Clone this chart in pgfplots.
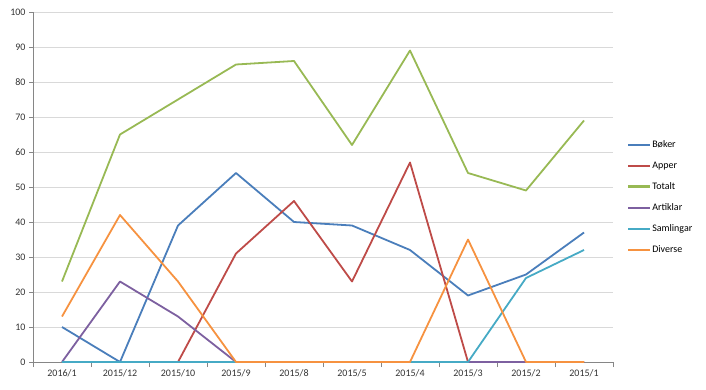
\documentclass[border=0pt]{standalone}
\usepackage{pgfplots}
\pgfplotsset{compat=1.18}
\usepackage{fontspec}
\setmainfont{Carlito}
\definecolor{cB}{HTML}{4A7EBB}
\definecolor{cR}{HTML}{BE4B48}
\definecolor{cG}{HTML}{98B954}
\definecolor{cP}{HTML}{7D60A0}
\definecolor{cT}{HTML}{46AAC5}
\definecolor{cO}{HTML}{F69240}
\definecolor{gridc}{HTML}{D9D9D9}
\definecolor{axc}{HTML}{868686}
\begin{document}
\begin{tikzpicture}[x=1pt,y=1pt]
\path[use as bounding box] (0,0) rectangle (706,389);
\begin{axis}[
  at={(33pt,27pt)}, anchor=south west,
  scale only axis, width=580pt, height=350pt,
  xmin=-0.5, xmax=9.5, ymin=0, ymax=100,
  axis lines=left, axis line style={draw=axc, line width=0.8pt, -},
  xtick={0,...,9},
  xticklabels={2016/1,2015/12,2015/10,2015/9,2015/8,2015/5,2015/4,2015/3,2015/2,2015/1},
  minor xtick={-0.5,0.5,...,9.5},
  major x tick style={draw=none},
  minor x tick style={draw=axc, line width=0.8pt},
  minor tick length=5pt,
  ytick={0,10,...,100},
  ymajorgrids, grid style={draw=gridc, line width=0.8pt},
  major y tick style={draw=axc, line width=0.8pt},
  major tick length=4pt,
  tick align=outside,
  tick label style={font=\fontsize{10}{11}\selectfont, text=black!80},
  /pgf/number format/assume math mode=true,
  legend style={at={(1.026,0.638)}, anchor=north west, draw=none, fill=none,
    font=\fontsize{10}{11}\selectfont, row sep=8.6pt, inner sep=0pt},
  legend cell align=left,
  legend image code/.code={\fill[#1, draw=none] (0pt,-1.2pt) rectangle (22pt,1.2pt);},
  every axis plot/.append style={line width=1.8pt, mark=none, line join=round},
]
\addplot[color=cB] coordinates {(0,10)(1,0)(2,39)(3,54)(4,40)(5,39)(6,32)(7,19)(8,25)(9,37)};
\addlegendentry{Bøker}
\addplot[color=cR] coordinates {(2,0)(3,31)(4,46)(5,23)(6,57)(7,0)(8,0)(9,0)};
\addlegendentry{Apper}
\addplot[color=cG] coordinates {(0,23)(1,65)(2,75)(3,85)(4,86)(5,62)(6,89)(7,54)(8,49)(9,69)};
\addlegendentry{Totalt}
\addplot[color=cP] coordinates {(0,0)(1,23)(2,13)(3,0)(4,0)(5,0)(6,0)(7,0)(8,0)(9,0)};
\addlegendentry{Artiklar}
\addplot[color=cT] coordinates {(0,0)(1,0)(2,0)(3,0)(4,0)(5,0)(6,0)(7,0)(8,24)(9,32)};
\addlegendentry{Samlingar}
\addplot[color=cO] coordinates {(0,13)(1,42)(2,23)(3,0)(4,0)(5,0)(6,0)(7,35)(8,0)(9,0)};
\addlegendentry{Diverse}
\end{axis}
\end{tikzpicture}
\end{document}
